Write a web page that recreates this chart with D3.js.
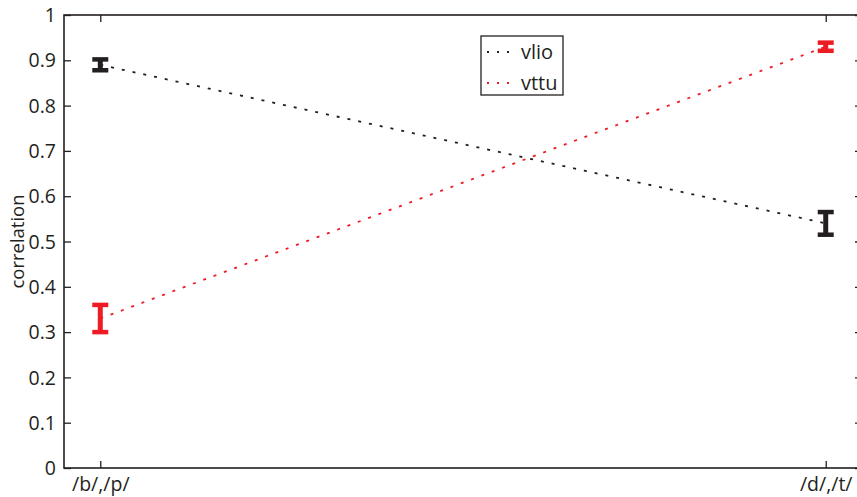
<!DOCTYPE html>
<html><head><meta charset="utf-8">
<script src="https://cdn.jsdelivr.net/npm/d3@7"></script>
<style>body{margin:0;background:#fff;} svg{display:block;} text{font-family:"Open Sans",sans-serif;}</style>
</head><body><svg id="c" width="857" height="497"></svg>
<script>
const categories = ["/b/,/p/", "/d/,/t/"];
const seriesNames = ["vlio", "vttu"];
const vlioValues = [0.89, 0.54];
const vlioErrors = [0.012, 0.025];
const vttuValues = [0.33, 0.93];
const vttuErrors = [0.03, 0.009];
const yTicks = [0, 0.1, 0.2, 0.3, 0.4, 0.5, 0.6, 0.7, 0.8, 0.9, 1];
const yTickLabels = ["0", "0.1", "0.2", "0.3", "0.4", "0.5", "0.6", "0.7", "0.8", "0.9", "1"];
const colors = ["#231f20", "#ed1c24"];

const svg = d3.select("#c");
const L = 64, R = 862, T = 15, B = 468;
const x = d3.scaleLinear().domain([0.95, 2.05]).range([L, R]);
const y = d3.scaleLinear().domain([0, 1]).range([B, T]);

// frame
svg.append("rect").attr("x", L).attr("y", T).attr("width", R - L).attr("height", B - T)
  .attr("fill", "none").attr("stroke", "#231f20").attr("stroke-width", 1.6);

// axes
const tl = 7;
const yAxisL = d3.axisLeft(y).tickValues(yTicks).tickFormat((d, i) => yTickLabels[i]).tickSizeInner(-tl).tickSizeOuter(0).tickPadding(8);
const gL = svg.append("g").attr("transform", `translate(${L},0)`).call(yAxisL);
const yAxisR = d3.axisRight(y).tickValues(yTicks).tickFormat("").tickSizeInner(-tl).tickSizeOuter(0);
const gR = svg.append("g").attr("transform", `translate(${R},0)`).call(yAxisR);
const xAxisB = d3.axisBottom(x).tickValues([1, 2]).tickFormat((d, i) => categories[i]).tickSizeInner(-tl).tickSizeOuter(0).tickPadding(9);
const gB = svg.append("g").attr("transform", `translate(0,${B})`).call(xAxisB);
const xAxisT = d3.axisTop(x).tickValues([1, 2]).tickFormat("").tickSizeInner(-tl).tickSizeOuter(0);
const gT = svg.append("g").attr("transform", `translate(0,${T})`).call(xAxisT);
[gL, gR, gB, gT].forEach(g => {
  g.select(".domain").remove();
  g.selectAll(".tick line").attr("stroke", "#231f20").attr("stroke-width", 1.3);
  g.selectAll("text").attr("fill", "#231f20").style("font-size", "19.5px").style("font-family", "'Open Sans',sans-serif");
});
gL.selectAll("text").attr("dy", "0.34em");

svg.append("text").attr("transform", `translate(24,${(T + B) / 2}) rotate(-90)`)
  .attr("text-anchor", "middle").attr("fill", "#231f20").style("font-size", "18.5px").text("correlation");

const series = [
  { name: seriesNames[0], vals: vlioValues, errs: vlioErrors, color: colors[0] },
  { name: seriesNames[1], vals: vttuValues, errs: vttuErrors, color: colors[1] }
];
const xs = [1, 2];
const line = d3.line().x((d, i) => x(xs[i])).y(d => y(d));
series.forEach(s => {
  svg.append("path").datum(s.vals).attr("d", line).attr("fill", "none")
    .attr("stroke", s.color).attr("stroke-width", 1.8).attr("stroke-dasharray", "3,8");
  const g = svg.append("g");
  s.vals.forEach((v, i) => {
    const cx = x(xs[i]);
    const y0 = y(v - s.errs[i]), y1 = y(v + s.errs[i]);
    g.append("line").attr("x1", cx).attr("x2", cx).attr("y1", y0).attr("y2", y1).attr("stroke", s.color).attr("stroke-width", 5);
    [y0, y1].forEach(yy => g.append("line").attr("x1", cx - 8).attr("x2", cx + 8).attr("y1", yy).attr("y2", yy)
      .attr("stroke", s.color).attr("stroke-width", 4.5));
  });
});

// legend
const lg = svg.append("g");
lg.append("rect").attr("x", 481).attr("y", 36).attr("width", 82).attr("height", 59)
  .attr("fill", "#fff").attr("stroke", "#231f20").attr("stroke-width", 1.3);
series.forEach((s, i) => {
  const yy = 52 + i * 31;
  lg.append("line").attr("x1", 487).attr("x2", 513).attr("y1", yy).attr("y2", yy)
    .attr("stroke", s.color).attr("stroke-width", 1.8).attr("stroke-dasharray", "2,8");
  lg.append("text").attr("x", 521).attr("y", yy + 7).attr("fill", "#231f20").style("font-size", "20px").text(s.name);
});
</script></body></html>
